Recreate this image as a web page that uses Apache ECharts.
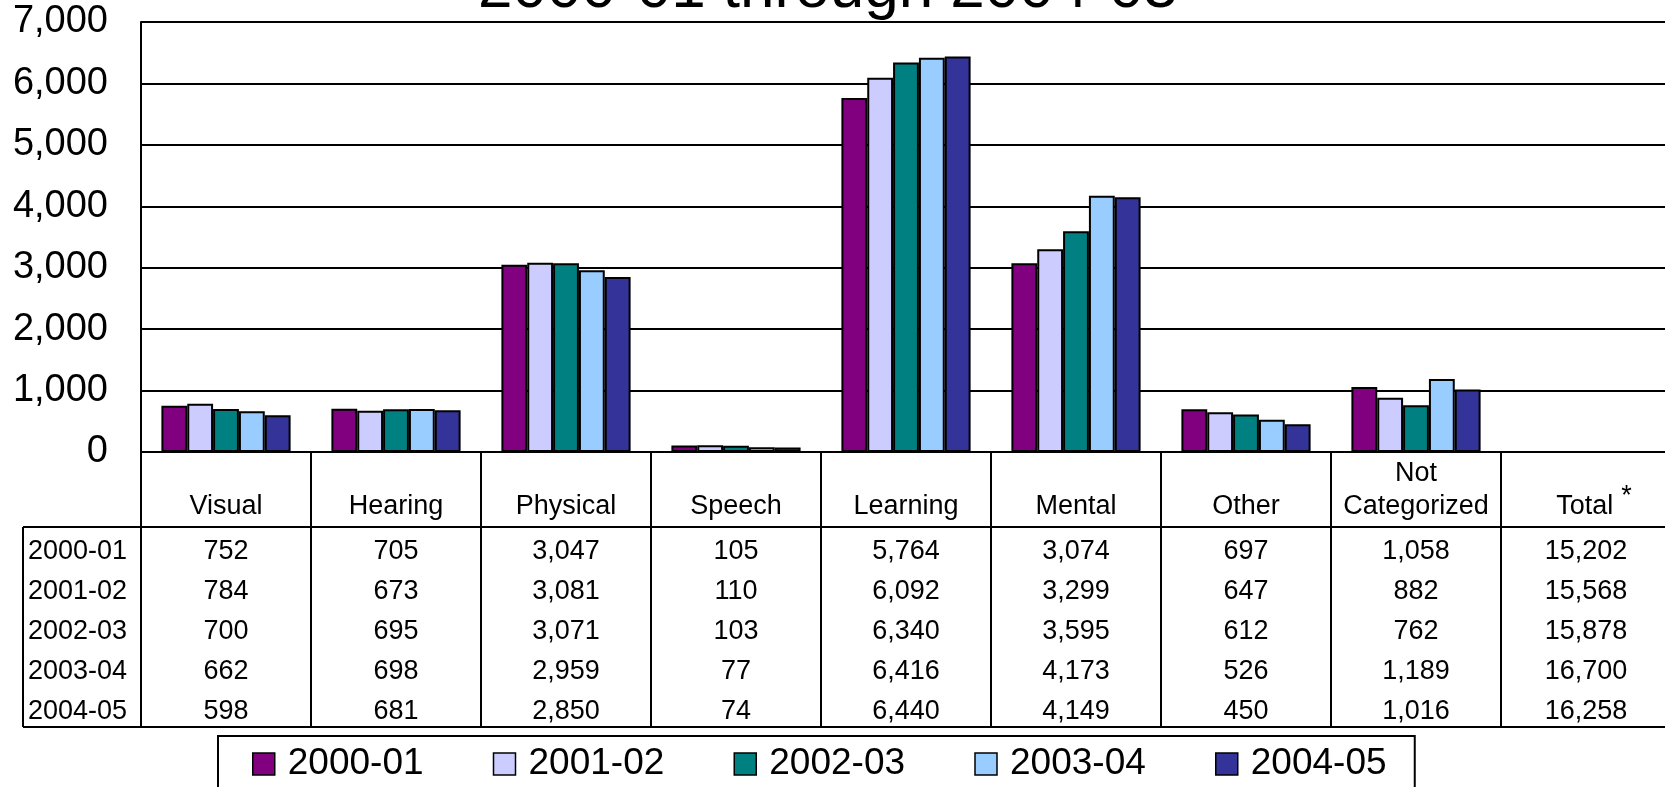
<!DOCTYPE html>
<html>
<head>
<meta charset="utf-8">
<script src="https://cdn.jsdelivr.net/npm/echarts@6/dist/echarts.min.js"></script>
<style>
html,body{margin:0;padding:0;background:#fff;overflow:hidden}
#c{width:1665px;height:787px}
</style>
</head>
<body>
<div id="c"></div>
<script>
// ---------- data ----------
const titleText = '2000-01 through 2004-05';
const categories = ['Visual', 'Hearing', 'Physical', 'Speech', 'Learning', 'Mental', 'Other', 'Not\nCategorized', 'Total'];
const footnoteCategory = 'Total';
const years = ['2000-01', '2001-02', '2002-03', '2003-04', '2004-05'];
const v2000_01 = [752, 705, 3047, 105, 5764, 3074, 697, 1058];
const v2001_02 = [784, 673, 3081, 110, 6092, 3299, 647, 882];
const v2002_03 = [700, 695, 3071, 103, 6340, 3595, 612, 762];
const v2003_04 = [662, 698, 2959, 77, 6416, 4173, 526, 1189];
const v2004_05 = [598, 681, 2850, 74, 6440, 4149, 450, 1016];
const totals = [15202, 15568, 15878, 16700, 16258];
const yMin = 0, yMax = 7000, yStep = 1000;

// ---------- styles ----------
const seriesRows = [v2000_01, v2001_02, v2002_03, v2003_04, v2004_05];
const palette = ['#800080', '#CCCCFF', '#008080', '#99CCFF', '#333399'];
const FONT = '"Liberation Sans", Arial, Helvetica, sans-serif';
const fmt = n => n.toLocaleString('en-US');

const chart = echarts.init(document.getElementById('c'), null, {renderer: 'canvas'});

const HEADER_H = 75;   // height of category header band below zero line
const ROW_H = 40;      // table row height
const TEXT_DY = 5;     // visual offset of text inside a row
const TABLE_FS = 27;

const xAxes = [{
  type: 'category',
  data: categories,
  gridIndex: 0,
  position: 'bottom',
  axisLine: {show: true, lineStyle: {color: '#000', width: 2}},
  axisTick: {show: false},
  splitLine: {show: false},
  axisLabel: {
    interval: 0,
    color: '#000',
    fontFamily: FONT,
    fontSize: TABLE_FS,
    lineHeight: 33,
    verticalAlign: 'bottom',
    margin: 71,
    formatter: v => v === footnoteCategory ? '{n|' + v + '}{s|*}' : v,
    rich: {
      n: {fontSize: TABLE_FS, fontFamily: FONT, color: '#000', padding: [0, 0, 0, 16]},
      s: {fontSize: TABLE_FS, fontFamily: FONT, color: '#000', padding: [0, 0, 20, 8]}
    }
  }
}];
years.forEach((y, r) => {
  xAxes.push({
    type: 'category',
    data: categories,
    gridIndex: 0,
    position: 'bottom',
    offset: 0,
    axisLine: {show: false},
    axisTick: {show: false},
    splitLine: {show: false},
    axisLabel: {
      interval: 0,
      color: '#000',
      fontFamily: FONT,
      fontSize: TABLE_FS,
      verticalAlign: 'middle',
      margin: HEADER_H + ROW_H * (r + 0.5) + TEXT_DY,
      formatter: (v, i) => fmt(i < seriesRows[r].length ? seriesRows[r][i] : totals[r])
    }
  });
});

const option = {
  animation: false,
  backgroundColor: '#fff',
  textStyle: {fontFamily: FONT},
  grid: {left: 141, top: 22, right: -6, bottom: 335, containLabel: false, outerBoundsMode: 'none'},
  legend: {
    data: years,
    left: 218,
    top: 736,
    orient: 'horizontal',
    icon: 'rect',
    itemWidth: 22,
    itemHeight: 22,
    itemGap: 55,
    padding: [8, 14, 12, 34],
    borderColor: '#000',
    borderWidth: 2,
    textStyle: {fontSize: 37, color: '#000', fontFamily: FONT, width: 150, lineHeight: 40, padding: [0, 0, 0, 8]},
    itemStyle: {borderColor: '#000', borderWidth: 1.5}
  },
  xAxis: xAxes,
  yAxis: {
    type: 'value',
    min: yMin, max: yMax, interval: yStep,
    axisLine: {show: true, lineStyle: {color: '#000', width: 2}},
    axisTick: {show: false},
    splitLine: {show: true, lineStyle: {color: '#000', width: 2}},
    axisLabel: {color: '#000', fontSize: 38, fontFamily: FONT, margin: 33, formatter: v => fmt(v)}
  },
  series: years.map((y, k) => ({
    name: y,
    type: 'bar',
    xAxisIndex: 0,
    yAxisIndex: 0,
    data: seriesRows[k],
    barGap: '0%',
    barCategoryGap: '24%',
    itemStyle: {color: palette[k], borderColor: '#000', borderWidth: 2}
  }))
};
chart.setOption(option);

// ---------- table grid & row labels (positions from the library's scales) ----------
const cx0 = chart.convertToPixel({xAxisIndex: 0}, categories[0]);
const cx1 = chart.convertToPixel({xAxisIndex: 0}, categories[1]);
const band = cx1 - cx0;
const plotLeft = cx0 - band / 2;
const yZero = chart.convertToPixel({yAxisIndex: 0}, yMin);
const headerBottom = yZero + HEADER_H;
const tableBottom = headerBottom + ROW_H * years.length;
const tableLeft = 23;
const W = 1665;
const lineStyle = {stroke: '#000', lineWidth: 2};

const g = [];
// title (partly cut off at the top, as in the reference)
g.push({type: 'text', x: 828, y: -10, silent: true,
  style: {text: titleText, fill: '#000', font: '62px ' + FONT, align: 'center', verticalAlign: 'middle'}});
// vertical column boundaries
for (let k = 0; k <= categories.length; k++) {
  const x = Math.round(plotLeft + band * k);
  g.push({type: 'line', silent: true, shape: {x1: x, y1: yZero, x2: x, y2: tableBottom}, style: lineStyle});
}
// row-label column left border
g.push({type: 'line', silent: true, shape: {x1: tableLeft, y1: headerBottom, x2: tableLeft, y2: tableBottom}, style: lineStyle});
// horizontal table lines
g.push({type: 'line', silent: true, shape: {x1: tableLeft, y1: headerBottom, x2: W, y2: headerBottom}, style: lineStyle});
g.push({type: 'line', silent: true, shape: {x1: tableLeft, y1: tableBottom, x2: W, y2: tableBottom}, style: lineStyle});
// row labels
years.forEach((y, r) => {
  g.push({type: 'text', silent: true, x: 28, y: headerBottom + ROW_H * (r + 0.5) + TEXT_DY,
    style: {text: y, fill: '#000', font: TABLE_FS + 'px ' + FONT, align: 'left', verticalAlign: 'middle'}});
});
chart.setOption({graphic: g});
</script>
</body>
</html>
